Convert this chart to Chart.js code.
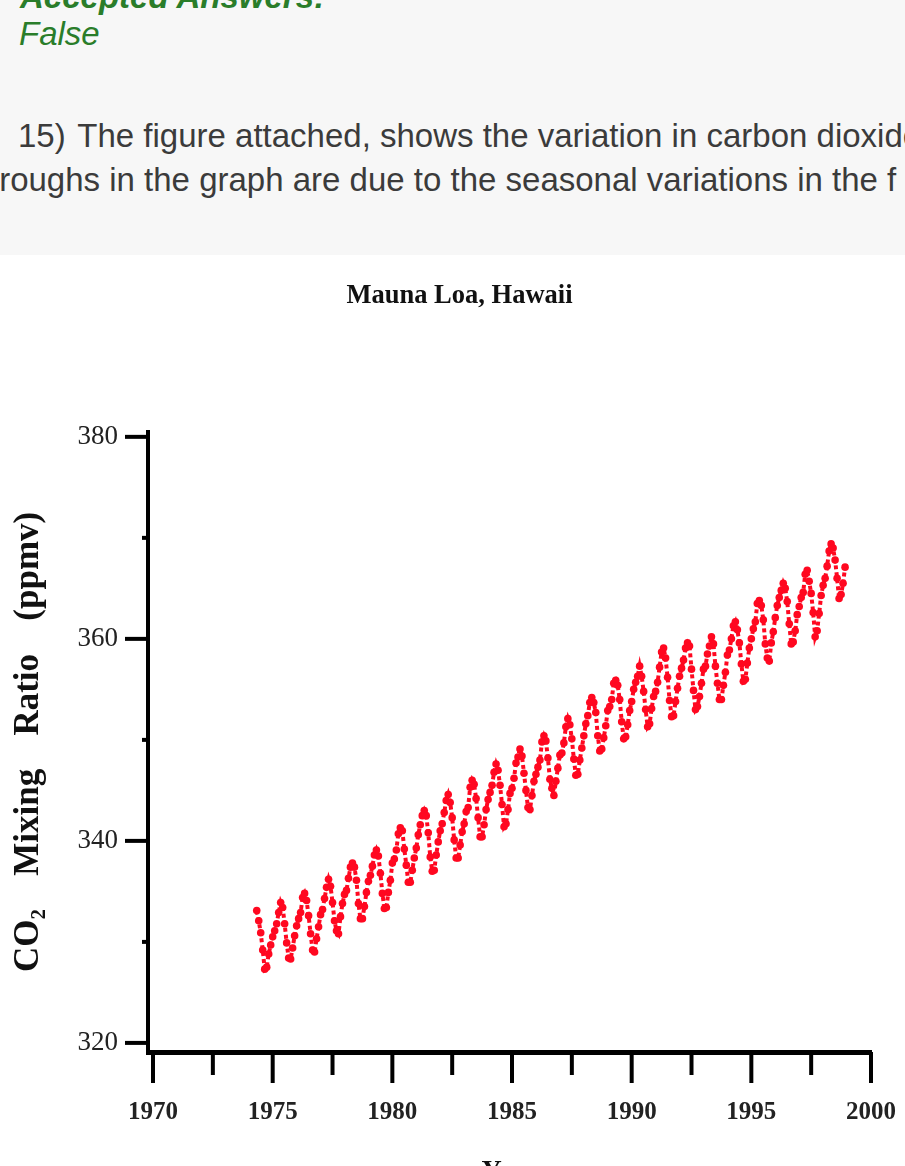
<!DOCTYPE html>
<html>
<head>
<meta charset="utf-8">
<script src="https://cdn.jsdelivr.net/npm/chart.js@4"></script>
<style>
  html, body { margin: 0; padding: 0; width: 905px; height: 1166px; overflow: hidden; background: #fff; }
  .top { position: absolute; left: 0; top: 0; width: 905px; height: 255px; background: #f7f7f7; overflow: hidden;
         font-family: "Liberation Sans", Arial, sans-serif; font-size: 33px; line-height: 1; white-space: nowrap; }
  .top div { position: absolute; }
  .green { color: #2a7d2a; font-style: italic; }
  .q { color: #3b3b3b; }
  #wrap { position: absolute; left: 0; top: 255px; width: 905px; height: 960px; }
</style>
</head>
<body>
<div class="top">
  <div class="green" style="left:20px; top:-20px; font-weight:bold;">Accepted Answers:</div>
  <div class="green" style="left:19px; top:17px;">False</div>
  <div class="q" style="left:18px; top:119px;">15)<span style="margin-left:3px"> </span>The figure attached, shows the variation in carbon dioxide</div>
  <div class="q" style="left:-10px; top:163px;">troughs in the graph are due to the seasonal variations in the f</div>
</div>
<div id="wrap"><canvas id="myChart" width="905" height="960"></canvas></div>
<script>
// monthly CO2 (ppmv), Mauna Loa
const startYear = 1974
const startMonth = 4 // May (0 = Jan)
const co2_1974 = [333.1, 332.1, 330.9, 329.2, 327.3, 327.5, 328.8, 329.7]
const co2_1975 = [330.5, 331.1, 331.8, 332.9, 333.9, 333.4, 331.8, 329.9, 328.4, 328.3, 329.4, 330.6]
const co2_1976 = [331.6, 332.3, 332.9, 334.4, 334.8, 334.1, 332.6, 330.8, 329.2, 329.0, 330.3, 331.5]
const co2_1977 = [332.7, 333.2, 334.3, 335.4, 336.2, 335.5, 333.9, 332.1, 331.1, 330.8, 332.5, 333.8]
const co2_1978 = [334.7, 335.1, 336.3, 337.4, 337.8, 337.4, 336.1, 333.8, 332.3, 332.3, 333.5, 334.9]
const co2_1979 = [336.0, 336.6, 337.5, 338.6, 339.1, 338.5, 336.8, 334.8, 333.3, 333.4, 334.9, 336.1]
const co2_1980 = [337.8, 338.2, 339.1, 340.7, 341.3, 341.0, 339.2, 337.6, 335.9, 335.9, 337.1, 338.3]
const co2_1981 = [339.3, 340.6, 341.6, 342.5, 343.0, 342.5, 340.8, 338.4, 337.0, 337.1, 338.6, 339.9]
const co2_1982 = [341.0, 341.7, 342.8, 344.0, 344.6, 343.8, 342.3, 340.1, 338.3, 338.3, 339.6, 340.9]
const co2_1983 = [341.7, 342.9, 343.3, 345.3, 346.0, 345.6, 344.2, 342.3, 340.4, 340.4, 341.6, 343.1]
const co2_1984 = [344.1, 344.8, 345.5, 346.8, 347.6, 347.0, 345.5, 343.6, 341.4, 341.7, 343.1, 344.7]
const co2_1985 = [345.2, 346.2, 347.7, 348.3, 349.1, 348.4, 346.7, 345.0, 343.3, 343.1, 344.5, 345.9]
const co2_1986 = [346.6, 347.3, 348.0, 349.8, 350.4, 349.9, 348.2, 346.1, 345.2, 344.5, 345.9, 347.2]
const co2_1987 = [348.5, 348.7, 349.7, 351.3, 352.1, 351.5, 350.1, 348.1, 346.5, 346.6, 348.0, 349.2]
const co2_1988 = [350.4, 351.6, 352.4, 353.7, 354.2, 353.7, 352.7, 350.4, 348.9, 349.1, 350.2, 351.4]
const co2_1989 = [352.9, 353.3, 354.0, 355.6, 355.9, 355.4, 354.0, 351.8, 350.1, 350.3, 351.5, 352.9]
const co2_1990 = [353.8, 355.0, 355.7, 356.3, 357.3, 356.3, 354.8, 353.0, 351.3, 351.6, 353.1, 354.3]
const co2_1991 = [354.8, 355.7, 357.2, 358.7, 359.1, 358.1, 356.2, 353.9, 352.3, 352.4, 353.8, 355.1]
const co2_1992 = [356.3, 357.1, 357.9, 359.1, 359.6, 359.3, 357.0, 354.9, 353.0, 353.3, 354.3, 355.6]
const co2_1993 = [357.0, 357.3, 358.5, 359.3, 360.2, 359.5, 357.3, 355.6, 354.0, 354.0, 355.4, 356.7]
const co2_1994 = [358.4, 358.9, 360.0, 361.3, 361.7, 360.9, 359.6, 357.5, 355.8, 356.0, 357.6, 359.1]
const co2_1995 = [360.0, 361.0, 361.7, 363.5, 363.8, 363.3, 361.9, 359.5, 358.1, 357.8, 359.6, 360.7]
const co2_1996 = [362.1, 363.3, 364.1, 364.8, 365.5, 365.0, 363.7, 361.5, 359.5, 359.7, 360.8, 362.4]
const co2_1997 = [363.2, 364.1, 364.6, 366.4, 366.8, 365.7, 364.5, 362.6, 360.2, 360.8, 362.5, 364.3]
const co2_1998 = [365.3, 366.0, 367.2, 368.7, 369.4, 369.0, 367.8, 366.0, 364.0, 364.4, 365.5, 367.1]

const yearTicks = [1970, 1975, 1980, 1985, 1990, 1995, 2000]
const ppmvTicks = [320, 340, 360, 380]

const allYears = [co2_1974, co2_1975, co2_1976, co2_1977, co2_1978, co2_1979, co2_1980, co2_1981,
    co2_1982, co2_1983, co2_1984, co2_1985, co2_1986, co2_1987, co2_1988, co2_1989, co2_1990,
    co2_1991, co2_1992, co2_1993, co2_1994, co2_1995, co2_1996, co2_1997, co2_1998]

var puntos = []
allYears.forEach((vals, i) => {
    const off = i === 0 ? startMonth : 0
    vals.forEach((v, j) => {
        puntos.push({ x: startYear + i + (off + j) / 12, y: v })
    })
})

// tick marks with two lengths, drawn from the chart's own scales
const ticksPlugin = {
    id: 'ticksPlugin',
    afterDraw(chart) {
        const ctx = chart.ctx
        const xs = chart.scales.x
        const ys = chart.scales.y
        ctx.save()
        ctx.strokeStyle = '#000'
        ctx.lineCap = 'butt'
        ctx.lineWidth = 4
        for (let v = 1970; v <= 2000; v += 2.5) {
            const px = xs.getPixelForValue(v)
            const major = v % 5 === 0
            ctx.beginPath()
            ctx.moveTo(px, xs.top)
            ctx.lineTo(px, xs.top + (major ? 31 : 23))
            ctx.stroke()
        }
        for (let v = 320; v <= 380; v += 10) {
            const py = ys.getPixelForValue(v)
            const major = v % 20 === 0
            ctx.beginPath()
            ctx.moveTo(ys.right, py)
            ctx.lineTo(ys.right - (major ? 23 : 6), py)
            ctx.stroke()
        }
        ctx.restore()
    }
}

const ctx = document.getElementById('myChart')

new Chart(ctx, {
    type: 'line',
    data: {
        datasets: [{
            label: 'CO2',
            data: puntos,
            borderColor: 'rgb(255, 8, 32)',
            backgroundColor: 'rgb(255, 8, 32)',
            borderWidth: 4,
            borderDash: [4, 3],
            pointRadius: 3.8,
            pointBorderWidth: 0,
            tension: 0
        }]
    },
    plugins: [ticksPlugin],
    options: {
        responsive: false,
        animation: false,
        layout: { padding: { left: 48, right: 34, top: 0, bottom: 0 } },
        plugins: {
            legend: { display: false },
            tooltip: { enabled: false },
            title: {
                display: true,
                text: 'Mauna Loa, Hawaii',
                color: '#111',
                font: { family: 'Liberation Serif', size: 26.5, weight: 'bold' },
                padding: { top: 25, bottom: 120 }
            }
        },
        scales: {
            x: {
                type: 'linear',
                min: 1969.79,
                max: 2000,
                afterBuildTicks: s => { s.ticks = yearTicks.map(v => ({ value: v })) },
                afterFit: s => { s.height = 163; s.paddingLeft = 0; s.paddingRight = 0 },
                grid: { display: true, drawOnChartArea: false, drawTicks: false },
                border: { display: true, color: '#000', width: 5 },
                ticks: {
                    color: '#222',
                    padding: 46,
                    maxRotation: 0,
                    autoSkip: false,
                    font: { family: 'Liberation Serif', size: 25, weight: 'bold' },
                    callback: v => v
                },
                title: {
                    display: true,
                    text: 'Year',
                    color: '#111',
                    font: { family: 'Liberation Serif', size: 28, weight: 'bold' },
                    padding: { top: 0, bottom: 26 }
                }
            },
            y: {
                type: 'linear',
                min: 319.1,
                max: 380.5,
                afterBuildTicks: s => { s.ticks = ppmvTicks.map(v => ({ value: v })) },
                afterFit: s => { s.width = 100; s.paddingTop = 0; s.paddingBottom = 0 },
                grid: { display: true, drawOnChartArea: false, drawTicks: false },
                border: { display: true, color: '#000', width: 4 },
                ticks: {
                    color: '#222',
                    padding: 30,
                    font: { family: 'Liberation Serif', size: 27 },
                    callback: v => v
                },
                title: {
                    display: true,
                    text: 'CO\u2082\u2002\u2009 Mixing\u2002\u2009 Ratio\u2002\u2009 (ppmv)',
                    color: '#111',
                    font: { family: 'Liberation Serif', size: 35, weight: 'bold' },
                    padding: { top: -40, bottom: 0 }
                }
            }
        }
    }
});
</script>
</body>
</html>
